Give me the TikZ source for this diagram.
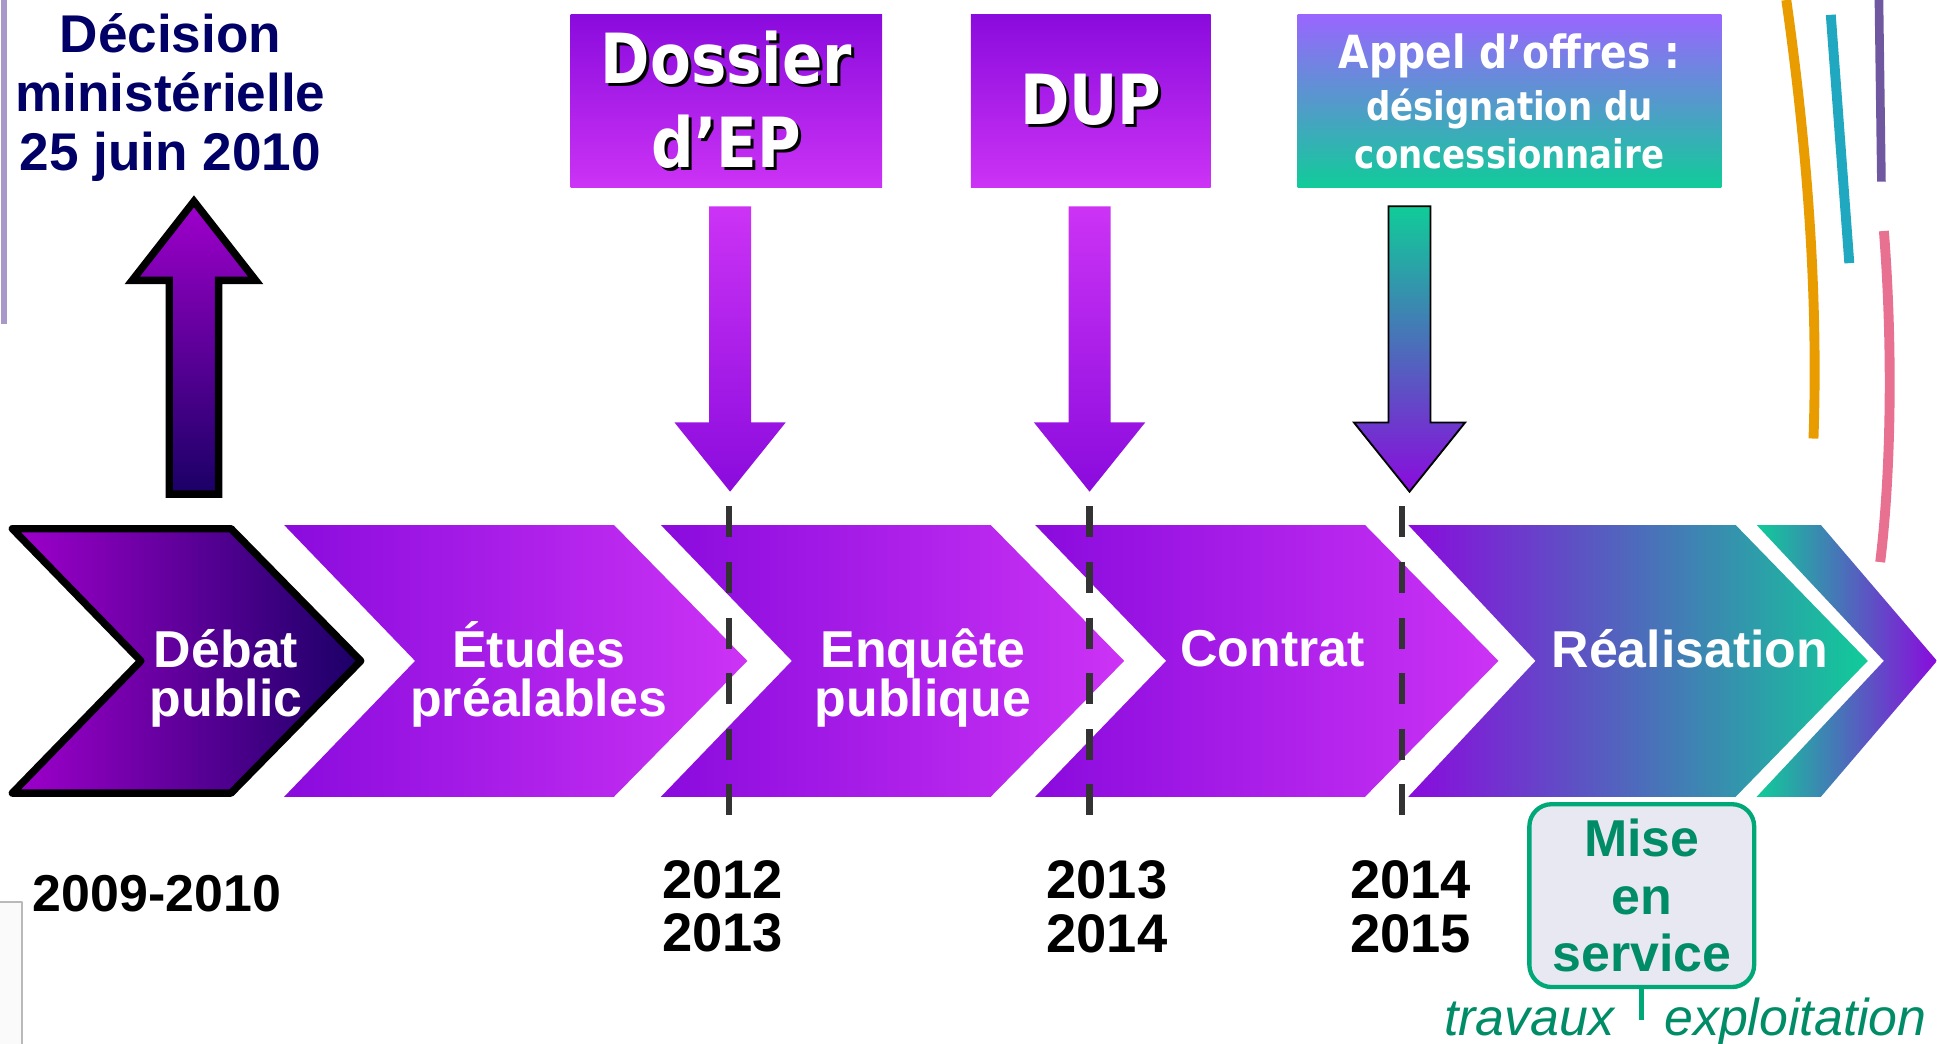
\documentclass[tikz,border=0pt]{standalone}
\usepackage{fontspec}
\setmainfont{Liberation Sans}
\newfontfamily\boxfont[FakeStretch=0.86]{DejaVu Sans}
\usetikzlibrary{calc}

\definecolor{deepviolet}{HTML}{8A0BDD}
\definecolor{lightviolet}{HTML}{CC33F5}
\definecolor{jade}{HTML}{10CC99}
\definecolor{lavender}{HTML}{9966FF}
\definecolor{plum}{HTML}{A000CC}
\definecolor{nightblue}{HTML}{1A0066}
\definecolor{navytext}{HTML}{000066}
\definecolor{mint}{HTML}{00A878}
\definecolor{minttext}{HTML}{008C66}
\definecolor{mistfill}{HTML}{E8E8F2}
\definecolor{dashgray}{HTML}{333333}
\definecolor{amber}{HTML}{E89C00}
\definecolor{skyteal}{HTML}{1FA8C0}
\definecolor{dusk}{HTML}{7058A0}
\definecolor{rosepink}{HTML}{E87090}
\definecolor{lavendergray}{HTML}{A899C8}

\newcommand{\shadowed}[1]{\rlap{\kern2.5pt\raisebox{-2.5pt}{\color{black}#1}}#1}

\begin{document}
\begin{tikzpicture}[x=1pt, y=-1pt, line join=round,
    every node/.style={align=center, inner sep=0pt},
    steptext/.style={text=white, font=\bfseries\fontsize{42}{40}\selectfont},
    yeartext/.style={text=black, font=\bfseries\fontsize{44}{43}\selectfont},
    headbox/.style={minimum height=140pt, text=white},
    yearline/.style={draw=dashgray, line width=5pt, dash pattern=on 25pt off 20pt},
    phase/.style={text=minttext, font=\itshape\fontsize{42}{44}\selectfont}]

    \useasboundingbox (0,0) rectangle (1568,845);

    % leftovers of the slide at the edges
    \draw[lavendergray, line width=5pt] (3,0) -- (3,262);
    \fill[black!2] (0,730) rectangle (18,845);
    \draw[gray!55, line width=1.5pt] (0,730) -- (18,730) -- (18,847);
    \draw[amber, line width=8pt] (1446,0) .. controls (1463,120) and (1472,240) .. (1468,355);
    \draw[skyteal, line width=8pt] (1482,12) -- (1497,213);
    \draw[dusk, line width=7pt] (1521,0) -- (1523,147);
    \draw[rosepink, line width=8pt] (1525,187) .. controls (1533,290) and (1530,390) .. (1522,455);

    % decision and its arrow
    \node[text=navytext, font=\bfseries\fontsize{43}{47.5}\selectfont] (decision) at (138,79)
        {Décision\\ministérielle\\25 juin 2010};
    \coordinate (uptip) at (157,163);
    \draw[line width=6pt, line join=miter, top color=plum, bottom color=nightblue]
        (uptip) -- ++(50,64) -- ++(-30,0) -- ++(0,173) -- ++(-40,0) -- ++(0,-173) -- ++(-30,0) -- cycle;

    % chevrons
    \draw[line width=6pt, left color=plum, right color=nightblue]
        (10,428) -- (187,428) -- (292,535) -- (187,642) -- (10,642) -- (114,535) -- cycle;
    \foreach \lx in {230, 535, 838} {
        \shade[left color=deepviolet, right color=lightviolet]
            (\lx,425) -- ++(267,0) -- ++(108,110) -- ++(-108,110) -- ++(-267,0) -- ++(106,-110) -- cycle;
    }
    \shade[left color=deepviolet, right color=jade]
        (1140,425) -- (1405,425) -- (1512,535) -- (1405,645) -- (1140,645) -- (1243,535) -- cycle;
    \shade[left color=jade, right color=deepviolet]
        (1422,425) -- (1474,425) -- (1568,535) -- (1474,645) -- (1422,645) -- (1525,535) -- cycle;

    \node[steptext] (debat) at (183,549) {Débat\\public};
    \node[steptext] (etudes) at (436,546) {Études\\préalables};
    \node[steptext] (enquete) at (747,549) {Enquête\\publique};
    \node[steptext] (contrat) at (1030,525) {Contrat};
    \node[steptext] (realisation) at (1368,525) {Réalisation};

    % year markers
    \foreach \x in {590, 882, 1135} {
        \draw[yearline] (\x,410) -- (\x,662);
    }
    \node[yeartext, font=\bfseries\fontsize{42}{43}\selectfont] (y0910) at (127,723) {2009-2010};
    \node[yeartext] (y1213) at (585,734) {2012\\2013};
    \node[yeartext] (y1314) at (896,734) {2013\\2014};
    \node[yeartext] (y1415) at (1142,734) {2014\\2015};

    % milestone boxes
    \node[headbox, minimum width=252pt, top color=deepviolet, bottom color=lightviolet,
        font=\boxfont\bfseries\fontsize{56}{68}\selectfont] (dossier) at (588,82)
        {\shadowed{Dossier}\\\shadowed{d’EP}};
    \node[headbox, minimum width=194pt, top color=deepviolet, bottom color=lightviolet,
        font=\boxfont\bfseries\fontsize{56}{65}\selectfont] (dup) at (883,82)
        {\shadowed{DUP}};
    \node[headbox, minimum width=343pt, top color=lavender, bottom color=jade,
        font=\boxfont\bfseries\fontsize{32}{38.5}\selectfont] (appel) at (1222,82)
        {{\fontsize{37}{38.5}\selectfont Appel d’offres :}\\[4pt]désignation du\\concessionnaire};

    % arrows down to the timeline
    \foreach \tip/\tc/\bc/\ln in {591/lightviolet/deepviolet/none,
                                  882/lightviolet/deepviolet/none,
                                  1141/jade/deepviolet/black} {
        \draw[draw=\ln, line width=1.5pt, line join=miter, top color=\tc, bottom color=\bc]
            (\tip,398) -- ++(-45,-56) -- ++(28,0) -- ++(0,-175) -- ++(34,0) -- ++(0,175) -- ++(28,0) -- cycle;
    }

    % commissioning
    \node[draw=mint, line width=3.5pt, rounded corners=18pt, fill=mistfill,
        minimum width=182pt, minimum height=148pt, text=minttext,
        font=\bfseries\fontsize{42}{46.5}\selectfont] (mise) at (1329,725) {Mise\\en\\service};
    \coordinate (split) at (1329,826);
    \draw[mint, line width=4pt] (mise.south) -- (split);
    \node[phase, anchor=base east] (travaux) at (1307,838) {travaux};
    \node[phase, anchor=base west] (exploitation) at (1347,838) {exploitation};

\end{tikzpicture}
\end{document}
